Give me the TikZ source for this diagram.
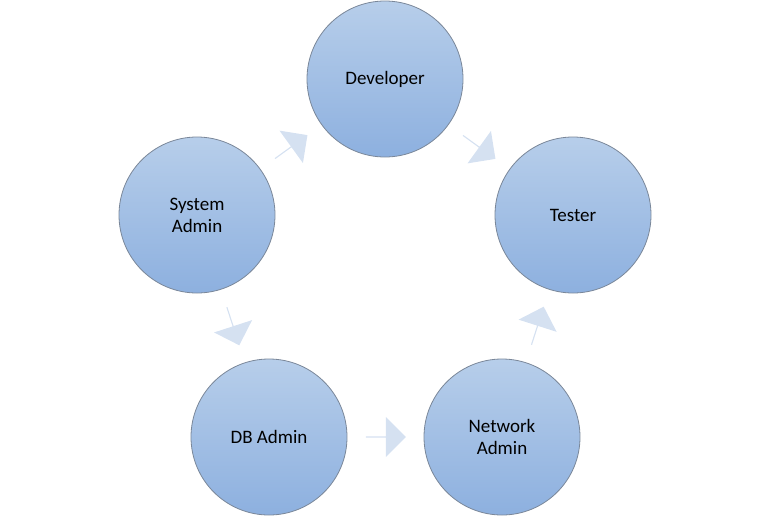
\documentclass[tikz,border=0pt]{standalone}
\usepackage{fontspec}
\setmainfont{Carlito}
\usetikzlibrary{shapes.arrows}
\definecolor{ctop}{HTML}{B7CEEA}
\definecolor{cbot}{HTML}{8DB0DF}
\definecolor{cedge}{HTML}{7A8799}
\definecolor{arr}{HTML}{D5E1F1}
\begin{document}
\begin{tikzpicture}[x=1pt,y=-1pt,
  role/.style={circle,minimum size=156pt,draw=cedge,line width=0.8pt,top color=ctop,bottom color=cbot,align=center,font=\fontsize{19}{22}\selectfont,inner sep=0pt},
  blk/.style={single arrow,fill=arr,draw=none,minimum height=40pt,minimum width=40pt,single arrow head extend=7pt,inner sep=0pt,sloped,pos=0.5}]
\useasboundingbox (0,0) rectangle (770,517);
\node[role] (dev) at (385,79) {Developer};
\node[role] (tes) at (573,215) {Tester};
\node[role] (net) at (502,437) {Network\\Admin};
\node[role] (db) at (269,437) {DB Admin};
\node[role] (sys) at (197,215) {System\\Admin};
\path (dev) -- node[blk]{} (tes);
\path (tes) -- node[blk]{} (net);
\path (net) -- node[blk]{} (db);
\path (db) -- node[blk]{} (sys);
\path (sys) -- node[blk]{} (dev);
\end{tikzpicture}
\end{document}
